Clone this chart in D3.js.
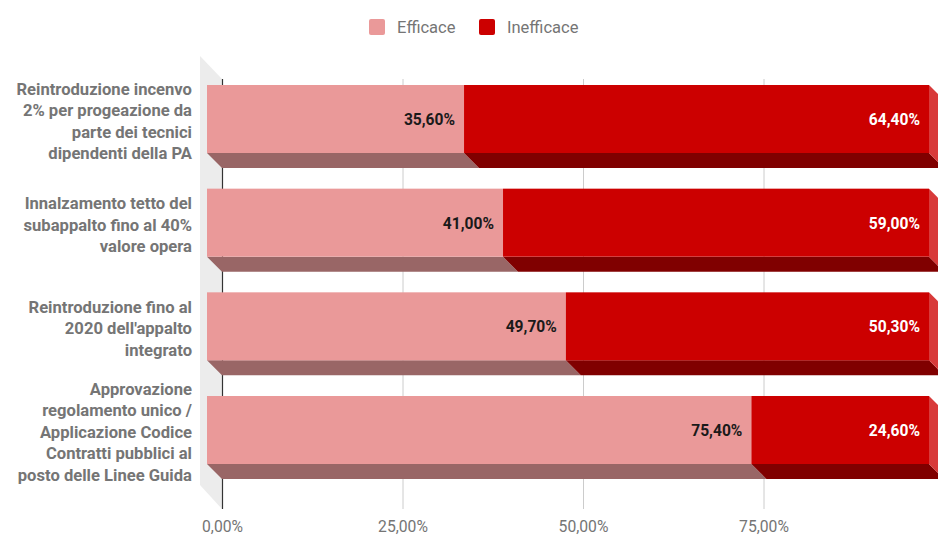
<!DOCTYPE html>
<html>
<head>
<meta charset="utf-8">
<script src="https://cdn.jsdelivr.net/npm/d3@7"></script>
<style>
  html, body { margin: 0; padding: 0; background: #fff; }
  svg { display: block; font-family: Roboto, "Noto Sans", sans-serif; }
</style>
</head>
<body>
<svg id="chart" width="938" height="535"></svg>
<script>
// ---- data ----
const categories = [
  "Reintroduzione incenvo\n2% per progeazione da\nparte dei tecnici\ndipendenti della PA",
  "Innalzamento tetto del\nsubappalto fino al 40%\nvalore opera",
  "Reintroduzione fino al\n2020 dell'appalto\nintegrato",
  "Approvazione\nregolamento unico /\nApplicazione Codice\nContratti pubblici al\nposto delle Linee Guida"
];
const seriesNames = ["Efficace", "Inefficace"];
const efficace = [35.6, 41.0, 49.7, 75.4];
const inefficace = [64.4, 59.0, 50.3, 24.6];
const tickValues = [0, 25, 50, 75];
const tickLabels = ["0,00%", "25,00%", "50,00%", "75,00%"];

// ---- styles ----
const frontColors = ["#ea9999", "#cc0000"];
const bottomColors = ["#996666", "#800000"];
const sideColors = ["#c98585", "#d83a3a"];
const labelColors = ["#1a1a1a", "#ffffff"];
const greyText = "#757575";

const svg = d3.select("#chart");
const depth = 15;

const x = d3.scaleLinear().domain([0, 100]).range([207, 929]);
const xBack = d3.scaleLinear().domain([0, 100]).range([207 + depth, 929 + depth]);
const y = d3.scaleBand().domain(categories).range([85, 464]).paddingInner(0.344).paddingOuter(0);

const itFmt = d3.formatLocale({decimal: ",", thousands: ".", grouping: [3], currency: ["", "€"]}).format(".2f");

// left wall
const wallTop = 56, wallBottom = 509;
svg.append("path")
  .attr("d", `M200,${wallTop} L${xBack(0)},${wallTop + 23} L${xBack(0)},${wallBottom} L200,${wallBottom - 24} Z`)
  .attr("fill", "#ececec");

// axis + gridlines
const axis = d3.axisBottom(xBack)
  .tickValues(tickValues)
  .tickFormat((d, i) => tickLabels[i])
  .tickSize(-(wallBottom - 79))
  .tickPadding(12);
const gAxis = svg.append("g").attr("transform", `translate(0,${wallBottom})`).call(axis);
gAxis.select(".domain").remove();
gAxis.selectAll(".tick line").attr("stroke", "#cccccc").attr("stroke-width", 1);
gAxis.selectAll(".tick").filter(d => d === 0).select("line").attr("stroke", "#333333").attr("stroke-width", 1.2);
gAxis.selectAll(".tick text").attr("fill", greyText).attr("font-size", 15.7).attr("font-family", "Roboto, sans-serif");

// stacked data
const rows = categories.map((c, i) => ({cat: c, vals: [efficace[i], inefficace[i]]}));
const segs = [];
rows.forEach(r => {
  let acc = 0;
  r.vals.forEach((v, k) => {
    segs.push({cat: r.cat, k, v, x0: acc, x1: acc + v});
    acc += v;
  });
});

const gBars = svg.append("g");
// bottom faces
gBars.selectAll("path.bottom").data(segs).join("path")
  .attr("class", "bottom")
  .attr("d", d => {
    const yb = y(d.cat) + y.bandwidth();
    return `M${x(d.x0)},${yb} L${x(d.x1)},${yb} L${x(d.x1) + depth},${yb + depth} L${x(d.x0) + depth},${yb + depth} Z`;
  })
  .attr("fill", d => bottomColors[d.k]);
// right side faces (last segment)
gBars.selectAll("path.side").data(segs.filter(d => d.k === 1)).join("path")
  .attr("class", "side")
  .attr("d", d => {
    const yt = y(d.cat), yb = yt + y.bandwidth(), xr = x(d.x1);
    return `M${xr},${yt} L${xr + depth},${yt + depth} L${xr + depth},${yb + depth} L${xr},${yb} Z`;
  })
  .attr("fill", d => sideColors[d.k]);
// front faces
gBars.selectAll("rect.front").data(segs).join("rect")
  .attr("class", "front")
  .attr("x", d => x(d.x0))
  .attr("y", d => y(d.cat))
  .attr("width", d => x(d.x1) - x(d.x0))
  .attr("height", y.bandwidth())
  .attr("fill", d => frontColors[d.k]);

// value labels
gBars.selectAll("text.val").data(segs).join("text")
  .attr("class", "val")
  .attr("x", d => x(d.x1) - 9)
  .attr("y", d => y(d.cat) + y.bandwidth() / 2 + 1)
  .attr("text-anchor", "end")
  .attr("dominant-baseline", "central")
  .attr("font-size", 15.6)
  .attr("font-weight", "bold")
  .attr("fill", d => labelColors[d.k])
  .text(d => itFmt(d.v) + "%");

// category labels
const lineH = 21.5;
const gCat = svg.append("g");
categories.forEach(c => {
  const lines = c.split("\n");
  const cy = y(c) + y.bandwidth() / 2 + 2.5;
  const t = gCat.append("text")
    .attr("text-anchor", "end")
    .attr("font-size", 16.6)
    .attr("font-weight", "bold")
    .attr("fill", greyText);
  lines.forEach((ln, i) => {
    t.append("tspan")
      .attr("x", 192)
      .attr("y", cy + (i - (lines.length - 1) / 2) * lineH)
      .attr("dominant-baseline", "central")
      .text(ln);
  });
});

// legend
const legend = svg.append("g");
const legX = [369, 479];
seriesNames.forEach((name, i) => {
  legend.append("rect")
    .attr("x", legX[i]).attr("y", 19).attr("width", 16).attr("height", 16)
    .attr("rx", 2).attr("fill", frontColors[i]);
  legend.append("text")
    .attr("x", legX[i] + 28).attr("y", 27)
    .attr("dominant-baseline", "central")
    .attr("font-size", 16.5)
    .attr("fill", greyText)
    .text(name);
});
</script>
</body>
</html>
